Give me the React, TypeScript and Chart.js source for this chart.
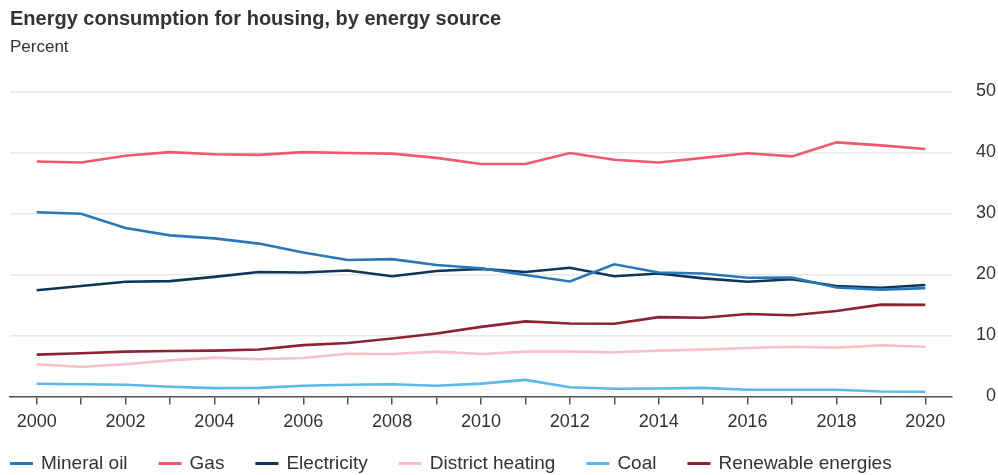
import React, { useEffect, useRef } from "react";
import { Chart, registerables } from "chart.js";

Chart.register(...registerables);

const years = [2000, 2001, 2002, 2003, 2004, 2005, 2006, 2007, 2008, 2009, 2010, 2011, 2012, 2013, 2014, 2015, 2016, 2017, 2018, 2019, 2020];

const mineralOil = [30.2, 29.95, 27.6, 26.4, 25.9, 25.05, 23.6, 22.35, 22.5, 21.55, 21.0, 19.9, 18.85, 21.65, 20.3, 20.15, 19.45, 19.5, 17.85, 17.5, 17.75];
const gas = [38.5, 38.35, 39.45, 40.05, 39.7, 39.6, 40.05, 39.9, 39.8, 39.1, 38.1, 38.1, 39.9, 38.8, 38.35, 39.1, 39.85, 39.35, 41.65, 41.15, 40.55];
const electricity = [17.4, 18.1, 18.8, 18.9, 19.6, 20.4, 20.3, 20.65, 19.7, 20.55, 20.9, 20.4, 21.1, 19.7, 20.15, 19.35, 18.8, 19.2, 18.1, 17.8, 18.25];
const districtHeating = [5.27, 4.84, 5.27, 5.9, 6.36, 6.09, 6.3, 7.0, 6.96, 7.34, 6.96, 7.34, 7.34, 7.23, 7.5, 7.66, 7.93, 8.15, 8.0, 8.37, 8.15];
const coal = [2.07, 2.0, 1.9, 1.58, 1.36, 1.4, 1.74, 1.9, 2.0, 1.74, 2.1, 2.7, 1.5, 1.25, 1.3, 1.4, 1.1, 1.1, 1.1, 0.8, 0.76];
const renewables = [6.85, 7.07, 7.34, 7.45, 7.5, 7.7, 8.4, 8.75, 9.5, 10.3, 11.4, 12.3, 11.96, 11.9, 13.0, 12.9, 13.5, 13.3, 14.0, 15.05, 15.0];

const seriesLabels = ["Mineral oil", "Gas", "Electricity", "District heating", "Coal", "Renewable energies"];
const seriesValues = [mineralOil, gas, electricity, districtHeating, coal, renewables];
const seriesColors = ["#2a78b8", "#f0586f", "#0f365a", "#f8c0cb", "#5bb9e8", "#8c2233"];

const yTicks = [0, 10, 20, 30, 40, 50];

const FONT = '"Liberation Sans", Arial, Helvetica, sans-serif';

const lineLegend = {
  id: "lineLegend",
  afterDraw(chart: any) {
    const ctx = chart.ctx;
    ctx.save();
    ctx.font = `19px ${FONT}`;
    ctx.textBaseline = "middle";
    ctx.textAlign = "left";
    let x = 10;
    const y = chart.height - 11.5;
    chart.data.datasets.forEach((ds: any) => {
      ctx.fillStyle = ds.borderColor;
      ctx.fillRect(x, y - 1.5, 23, 3);
      x += 23 + 8;
      ctx.fillStyle = "#333";
      ctx.fillText(ds.label, x, y);
      x += ctx.measureText(ds.label).width + 31;
    });
    ctx.restore();
  },
};

export default function App() {
  const ref = useRef<HTMLCanvasElement | null>(null);

  useEffect(() => {
    if (!ref.current) return;
    const chart = new Chart(ref.current, {
      type: "line",
      data: {
        datasets: seriesLabels.map((label, i) => ({
          label,
          data: years.map((yr, j) => ({ x: yr, y: seriesValues[i][j] })),
          borderColor: seriesColors[i],
          backgroundColor: seriesColors[i],
          borderWidth: 2.6,
          pointRadius: 0,
          tension: 0,
          fill: false,
        })),
      },
      options: {
        animation: false,
        responsive: false,
        maintainAspectRatio: false,
        layout: { padding: { left: 10, right: 2, top: 0, bottom: 35 } },
        plugins: {
          legend: { display: false },
          tooltip: { enabled: false },
          title: {
            display: true,
            text: "Energy consumption for housing, by energy source",
            align: "start",
            color: "#333",
            font: { family: FONT, size: 20, weight: "bold" },
            padding: { top: 7, bottom: 6 },
          },
          subtitle: {
            display: true,
            text: "Percent",
            align: "start",
            color: "#333",
            font: { family: FONT, size: 17 },
            padding: { top: 0, bottom: 34 },
          },
        },
        scales: {
          x: {
            type: "linear",
            min: years[0] - 0.6,
            max: years[years.length - 1] + 0.6,
            afterBuildTicks: (scale: any) => {
              scale.ticks = years.map((v) => ({ value: v }));
            },
            grid: {
              drawOnChartArea: false,
              drawTicks: true,
              tickLength: 8,
              tickColor: "#555",
              lineWidth: 1.5,
            },
            border: { display: true, color: "#555", width: 1.5 },
            ticks: {
              autoSkip: false,
              maxRotation: 0,
              padding: 7,
              color: "#333",
              font: { family: FONT, size: 18 },
              callback: (v: any) => (Number(v) % 2 === 0 ? String(v) : ""),
            },
          },
          y: {
            position: "right",
            min: yTicks[0],
            max: yTicks[yTicks.length - 1],
            afterBuildTicks: (scale: any) => {
              scale.ticks = yTicks.map((v) => ({ value: v }));
            },
            grid: {
              color: "#e8e8e8",
              lineWidth: 1.5,
              drawTicks: false,
            },
            border: { display: false },
            ticks: {
              padding: 12,
              crossAlign: "far",
              color: "#333",
              font: { family: FONT, size: 18 },
            },
          },
        },
      },
      plugins: [lineLegend],
    } as any);
    return () => chart.destroy();
  }, []);

  return (
    <div style={{ position: "fixed", left: 0, top: 0, width: 998, height: 475, background: "#fff" }}>
      <canvas ref={ref} width={998} height={475} style={{ display: "block", width: 998, height: 475 }} />
    </div>
  );
}
